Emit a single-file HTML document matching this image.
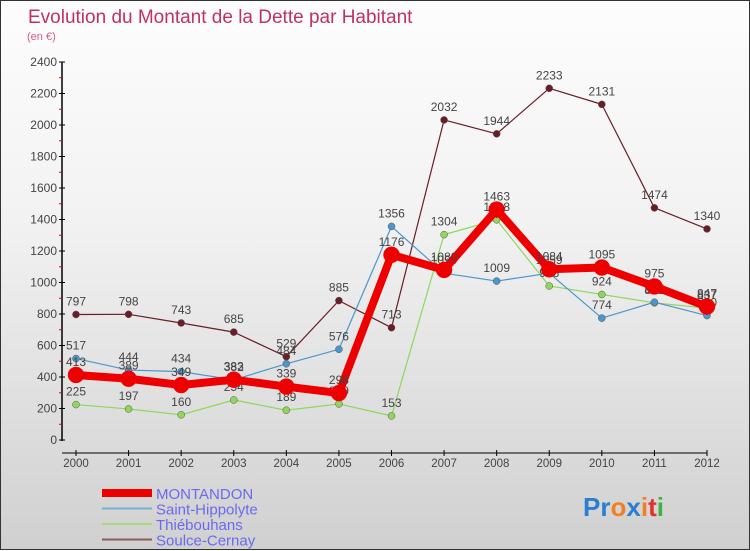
<!DOCTYPE html>
<html><head><meta charset="utf-8"><style>
body{margin:0;width:750px;height:550px;overflow:hidden;font-family:"Liberation Sans",sans-serif}
#wrap{position:relative;width:748px;height:548px;border:1px solid #333;background:linear-gradient(#fdfdfd,#f2f2f2 40%,#d0d0d0)}
svg{position:absolute;left:0;top:0}
</style></head><body>
<div id="wrap">
<svg id="c" width="750" height="550">
<text x="27" y="22" font-size="19" fill="#c0325e">Evolution du Montant de la Dette par Habitant</text>
<text x="26" y="39" font-size="11" fill="#d06080">(en €)</text>
<g id="legend"></g>
<text x="582" y="515" font-size="26" font-weight="bold"><tspan fill="#2a7fd0">Pr</tspan><tspan fill="#f08020">o</tspan><tspan fill="#2a7fd0">x</tspan><tspan fill="#f08020">i</tspan><tspan fill="#e03030">t</tspan><tspan fill="#40b040">i</tspan></text>
</svg>
</div>
<script>
const years=[2000,2001,2002,2003,2004,2005,2006,2007,2008,2009,2010,2011,2012];
const yTicks=[0,200,400,600,800,1000,1200,1400,1600,1800,2000,2200,2400];
const montandon=[413,389,349,383,339,298,1176,1080,1463,1084,1095,975,847];
const saintHippolyte=[517,444,434,382,484,576,1356,1059,1009,1059,774,875,790];
const thiebouhans=[225,197,160,254,189,229,153,1304,1398,978,924,871,837];
const soulceCernay=[797,798,743,685,529,885,713,2032,1944,2233,2131,1474,1340];
const seriesNames=["MONTANDON","Saint-Hippolyte","Thiébouhans","Soulce-Cernay"];
const NS="http://www.w3.org/2000/svg";
const svg=document.getElementById('c');
const xS=i=>75+i*(706-75)/(years.length-1);
const yS=v=>439-v*(439-61)/2400;
function mk(t,a,p){const e=document.createElementNS(NS,t);for(const k in a)e.setAttribute(k,a[k]);(p||svg).appendChild(e);return e;}
// axes
const ax=mk('g',{});


mk('line',{x1:61,y1:61,x2:61,y2:440,stroke:'#000','stroke-width':1.5},ax);
mk('line',{x1:61,y1:452,x2:706,y2:452,stroke:'#000','stroke-width':1},ax);
yTicks.forEach((v,i)=>{
  const y=yS(v);
  mk('line',{x1:58,y1:y,x2:64,y2:y,stroke:'#000'},ax);
  if(i<yTicks.length-1) mk('line',{x1:58,y1:yS(v+100),x2:61,y2:yS(v+100),stroke:'#e00'},ax);
  const t=mk('text',{x:56,y:y+4,'text-anchor':'end','font-size':12,fill:'#444'},ax);t.textContent=v;
  
  
});
years.forEach((yr,i)=>{
  const x=xS(i);
  mk('line',{x1:x,y1:449,x2:x,y2:455,stroke:'#000'},ax);
  const t=mk('text',{x:x,y:466,'text-anchor':'middle','font-size':11.5,fill:'#444'},ax);t.textContent=yr;
  
  
});
const styles=[
 {d:soulceCernay,c:'#6b1c24',w:1.2,r:3.5,n:'series-soulce-cernay'},
 {d:thiebouhans,c:'#8fd65a',w:1.2,r:3.5,n:'series-thiebouhans'},
 {d:saintHippolyte,c:'#4c96cc',w:1.2,r:3.5,n:'series-saint-hippolyte'},
 {d:montandon,c:'#ee0000',w:8,r:8,n:'series-montandon'}];
styles.forEach(s=>{
  const g=mk('g',{});
  
  
  mk('polyline',{points:s.d.map((v,i)=>xS(i)+','+yS(v)).join(' '),fill:'none',stroke:s.c,'stroke-width':s.w,'stroke-linejoin':'round'},g);
  s.d.forEach((v,i)=>{
    const p=mk('circle',{cx:xS(i),cy:yS(v),r:s.r,fill:s.c,stroke:s.w>2?s.c:'#555','stroke-width':0.5},g);
    
    
    const t=mk('text',{x:xS(i),y:yS(v)-9,'text-anchor':'middle','font-size':12,fill:'#444'},g);t.textContent=v;
  });
});
const lg=document.getElementById('legend');
const lc=['#ee0000','#7aaed0','#a6dc80','#8a5a5a'],lw=[8,2,2,2];
seriesNames.forEach((n,i)=>{
  const y=492+i*15.5;
  mk('line',{x1:101,y1:y,x2:151,y2:y,stroke:lc[i],'stroke-width':lw[i]},lg);
  const t=mk('text',{x:155,y:y+6,'font-size':15,fill:'#6a6aee'},lg);t.textContent=n;
  
  
});
</script>
</body></html>
